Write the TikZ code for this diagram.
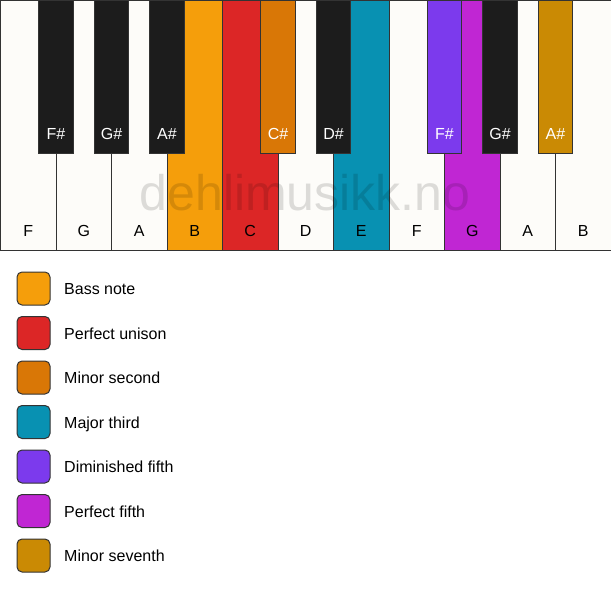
\documentclass[tikz,border=0pt]{standalone}
\usepackage{fontspec}
\setmainfont{Liberation Sans}
\usetikzlibrary{positioning}

\definecolor{keywhite}{HTML}{FDFCF9}
\definecolor{keyblack}{HTML}{1C1C1C}
\definecolor{keyedge}{HTML}{333333}
\definecolor{bassnote}{HTML}{F59E0B}
\definecolor{unison}{HTML}{DC2626}
\definecolor{minsecond}{HTML}{D97706}
\definecolor{majthird}{HTML}{0891B2}
\definecolor{dimfifth}{HTML}{7C3AED}
\definecolor{perffifth}{HTML}{C026D3}
\definecolor{minseventh}{HTML}{CA8A04}

\begin{document}
\begin{tikzpicture}[
    x=1pt, y=-1pt, % one unit per pixel, y grows downwards
    node distance=0pt, % keys touch each other
    every node/.style={
        font=\fontsize{16}{19}\selectfont % Arial-like, 16px
    },
    whitekey/.style={
        draw=keyedge, line width=1pt, fill=keywhite,
        minimum width=55.5pt, minimum height=250pt,
        inner sep=0pt, outer sep=0pt
    },
    blackkey/.style={
        draw=keyedge, line width=1pt, fill=keyblack,
        minimum width=34.5pt, minimum height=153pt,
        inner sep=0pt, outer sep=0pt, anchor=north
    },
    keyname/.style={anchor=base, yshift=14pt}, % note name near the bottom of a key
    sharpname/.style={keyname, text=white},
    legbox/.style={
        draw=keyedge, line width=1pt, rounded corners=5pt,
        minimum size=33pt, inner sep=0pt, outer sep=0pt
    },
    legtext/.style={inner sep=0pt, text height=12.6pt, text depth=0pt} % same baseline for every entry
]
\useasboundingbox (0,0) rectangle (611,594);

% white keys
\node[whitekey, label={[keyname]south:F}] (F1) at (28.25,125.5) {};
\node[whitekey, right=of F1, label={[keyname]south:G}] (G1) {};
\node[whitekey, right=of G1, label={[keyname]south:A}] (A1) {};
\node[whitekey, right=of A1, fill=bassnote, label={[keyname]south:B}] (B1) {};
\node[whitekey, right=of B1, fill=unison, label={[keyname]south:C}] (C1) {};
\node[whitekey, right=of C1, label={[keyname]south:D}] (D1) {};
\node[whitekey, right=of D1, fill=majthird, label={[keyname]south:E}] (E1) {};
\node[whitekey, right=of E1, label={[keyname]south:F}] (F2) {};
\node[whitekey, right=of F2, fill=perffifth, label={[keyname]south:G}] (G2) {};
\node[whitekey, right=of G2, label={[keyname]south:A}] (A2) {};
\node[whitekey, right=of A2, label={[keyname]south:B}] (B2) {};

% black keys
\node[blackkey, label={[sharpname]south:F\#}] (Fs1) at (F1.north east) {};
\node[blackkey, label={[sharpname]south:G\#}] (Gs1) at (G1.north east) {};
\node[blackkey, label={[sharpname]south:A\#}] (As1) at (A1.north east) {};
\node[blackkey, fill=minsecond, label={[sharpname]south:C\#}] (Cs1) at (C1.north east) {};
\node[blackkey, label={[sharpname]south:D\#}] (Ds1) at (D1.north east) {};
\node[blackkey, fill=dimfifth, label={[sharpname]south:F\#}] (Fs2) at (F2.north east) {};
\node[blackkey, label={[sharpname]south:G\#}] (Gs2) at (G2.north east) {};
\node[blackkey, fill=minseventh, label={[sharpname]south:A\#}] (As2) at (A2.north east) {};

% watermark
\node[font=\fontsize{50}{60}\selectfont, text=black, text opacity=0.13] (mark) at (305,193) {dehlimusikk.no};

% legend
\node[legbox, fill=bassnote] (bass) at (33.5,288.5) {};
\node[legbox, fill=unison, below=11.5pt of bass] (unis) {};
\node[legbox, fill=minsecond, below=11.5pt of unis] (msec) {};
\node[legbox, fill=majthird, below=11.5pt of msec] (mthi) {};
\node[legbox, fill=dimfifth, below=11.5pt of mthi] (dfif) {};
\node[legbox, fill=perffifth, below=11.5pt of dfif] (pfif) {};
\node[legbox, fill=minseventh, below=11.5pt of pfif] (msev) {};

\node[legtext, right=14pt of bass] {Bass note};
\node[legtext, right=14pt of unis] {Perfect unison};
\node[legtext, right=14pt of msec] {Minor second};
\node[legtext, right=14pt of mthi] {Major third};
\node[legtext, right=14pt of dfif] {Diminished fifth};
\node[legtext, right=14pt of pfif] {Perfect fifth};
\node[legtext, right=14pt of msev] {Minor seventh};
\end{tikzpicture}
\end{document}
